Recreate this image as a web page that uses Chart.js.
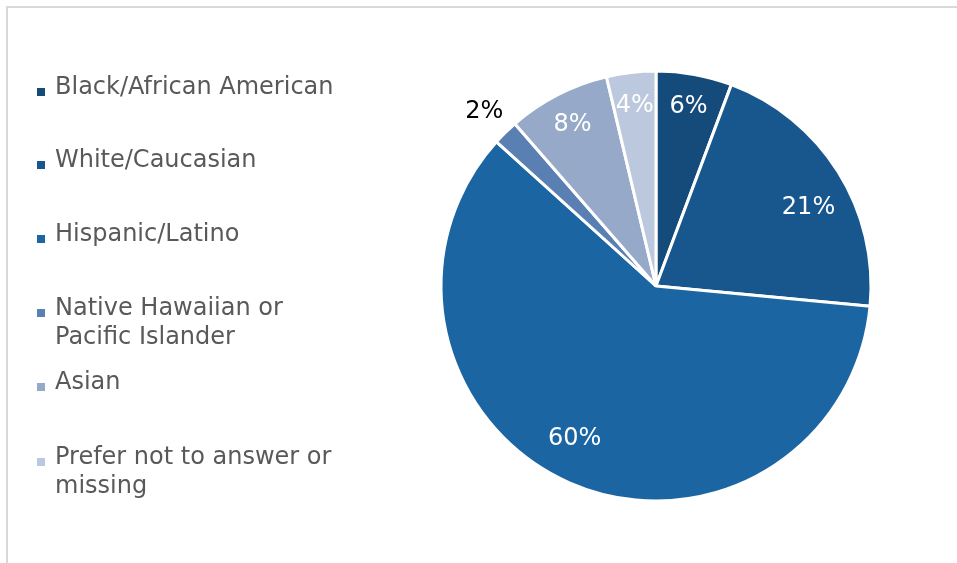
<!DOCTYPE html>
<html>
<head>
<meta charset="utf-8">
<script src="https://cdn.jsdelivr.net/npm/chart.js@4"></script>
<style>
  html, body { margin: 0; padding: 0; background: #ffffff; overflow: hidden; }
  body { width: 957px; height: 563px; position: relative; font-family: "DejaVu Sans", Verdana, sans-serif; }
  #frame { position: absolute; left: 6px; top: 6px; width: 1000px; height: 600px;
           border-left: 2px solid #d9d9d9; border-top: 2px solid #d9d9d9; }
  #wrap { position: absolute; left: 0; top: 0; width: 957px; height: 563px; }
  #legend { position: absolute; left: 0; top: 0; }
  .item { position: absolute; left: 55px; width: 292px; font-size: 24px; line-height: 29px; color: #595959; }
  .mark { position: absolute; left: -18px; top: 16px; width: 8px; height: 8px; }
</style>
</head>
<body>
<div id="frame"></div>
<div id="wrap"><canvas id="c" width="957" height="563"></canvas></div>
<div id="legend"></div>
<script>
const categories = [
  "Black/African American",
  "White/Caucasian",
  "Hispanic/Latino",
  "Native Hawaiian or Pacific Islander",
  "Asian",
  "Prefer not to answer or missing"
];
const shares = [5.7, 20.8, 60.2, 1.9, 7.7, 3.7];
const colors = ["#154B7B", "#17578E", "#1C65A3", "#5A80B3", "#97A9C9", "#BCC8DD"];
const legendTops = [72, 145, 219, 293, 367, 442];

// HTML legend
const lg = document.getElementById('legend');
categories.forEach((name, i) => {
  const d = document.createElement('div');
  d.className = 'item';
  d.style.top = legendTops[i] + 'px';
  const m = document.createElement('span');
  m.className = 'mark';
  m.style.background = colors[i];
  d.appendChild(m);
  d.appendChild(document.createTextNode(name));
  lg.appendChild(d);
});

const labelPlugin = {
  id: 'pctLabels',
  afterDatasetsDraw(chart) {
    const ctx = chart.ctx;
    const meta = chart.getDatasetMeta(0);
    const total = shares.reduce((a, b) => a + b, 0);
    ctx.save();
    ctx.font = '24px "DejaVu Sans", Verdana, sans-serif';
    ctx.textAlign = 'center';
    ctx.textBaseline = 'middle';
    meta.data.forEach((arc, i) => {
      const p = arc.getProps(['x', 'y', 'startAngle', 'endAngle', 'outerRadius'], true);
      let mid = (p.startAngle + p.endAngle) / 2;
      const pct = shares[i] / total * 100;
      let rf, col;
      if (pct < 3) { rf = 1.14; col = '#000000'; }
      else if (pct > 15) { rf = 0.80; col = '#ffffff'; mid += 4.5 * Math.PI / 180; }
      else { rf = 0.85; col = '#ffffff'; }
      const r = p.outerRadius * rf;
      ctx.fillStyle = col;
      ctx.fillText(Math.round(pct) + '%', p.x + Math.cos(mid) * r, p.y + Math.sin(mid) * r + 1);
    });
    ctx.restore();
  }
};

new Chart(document.getElementById('c'), {
  type: 'pie',
  data: {
    labels: categories,
    datasets: [{
      data: shares,
      backgroundColor: colors,
      borderColor: '#ffffff',
      borderWidth: 3,
      radius: 215
    }]
  },
  options: {
    responsive: false,
    animation: false,
    layout: { padding: { left: 355, top: 9, right: 0, bottom: 0 } },
    plugins: { legend: { display: false }, tooltip: { enabled: false } }
  },
  plugins: [labelPlugin]
});
</script>
</body>
</html>
